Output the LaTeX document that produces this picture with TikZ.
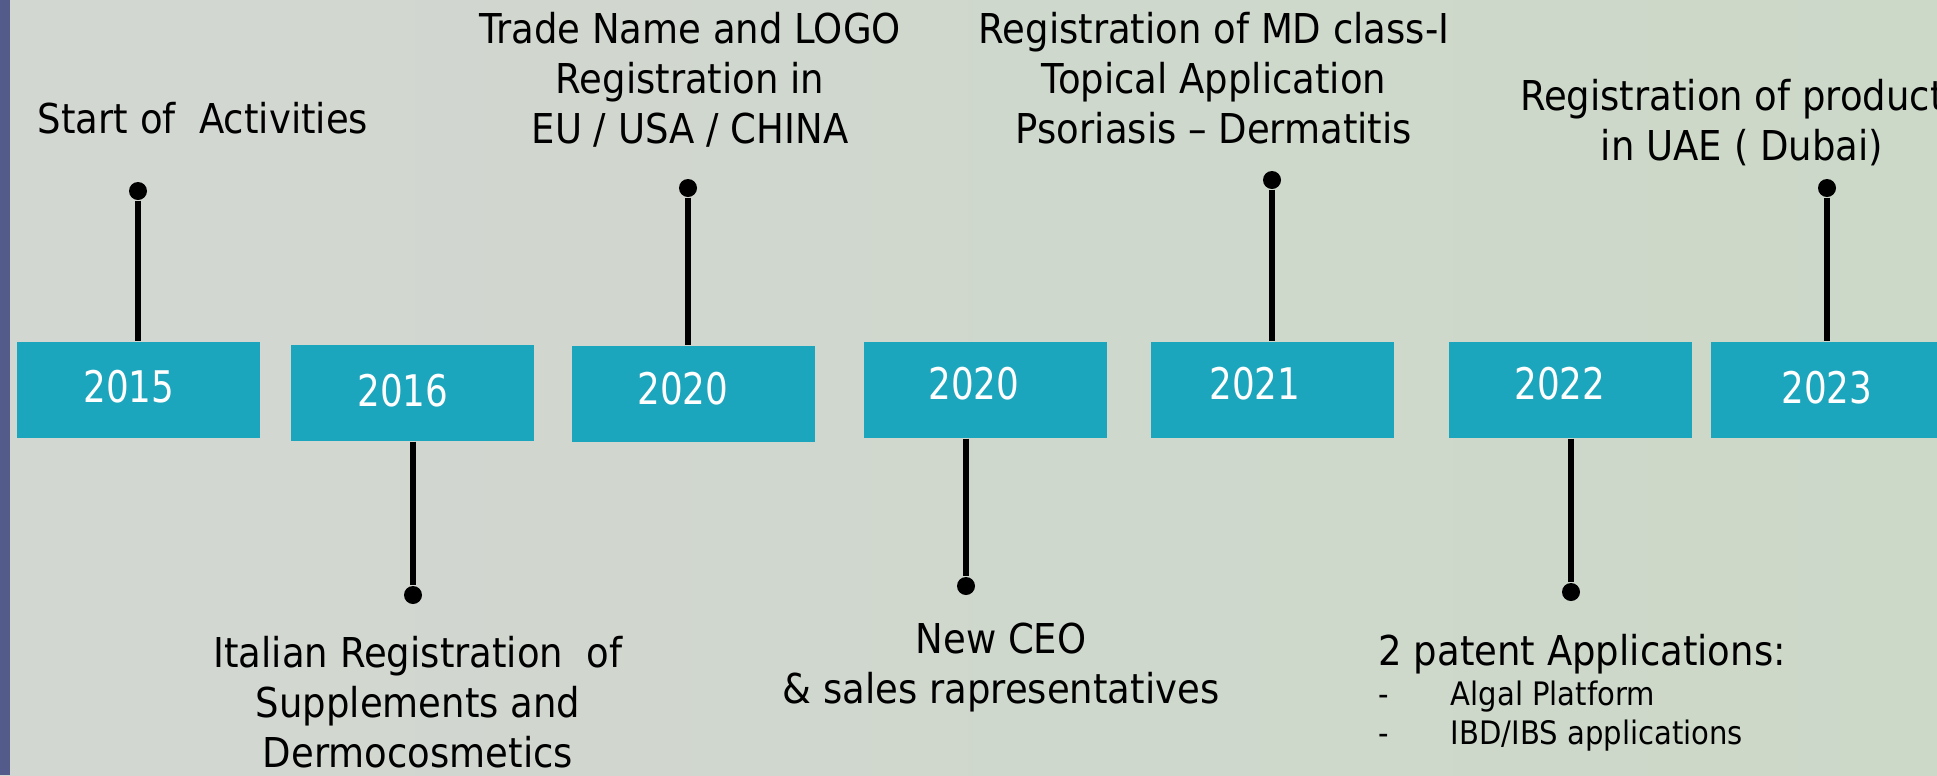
\documentclass[tikz,border=0pt]{standalone}
\usepackage{fontspec}
\setmainfont{DejaVu Sans}[FakeStretch=0.9]
\newfontfamily\yearfont{DejaVu Sans}[FakeStretch=0.82]
\usepackage{tikz}
\usetikzlibrary{positioning, calc}

\definecolor{bgleft}{HTML}{D3D7D2}
\definecolor{bgright}{HTML}{CCD8C8}
\definecolor{sidebar}{HTML}{535B8B}
\definecolor{boxblue}{HTML}{1BA6BD}

\tikzset{
  yearbox/.style={fill=boxblue, minimum width=24.3mm, minimum height=9.6mm, inner sep=0},
  yeartext/.style={text=white, font=\yearfont\fontsize{12.4}{14}\selectfont, inner sep=0},
  event/.style={font=\fontsize{11.7}{14.2}\selectfont, align=center, inner sep=0, anchor=north},
  pin/.style={circle, fill=black, inner sep=0, minimum size=1.8mm},
  stem/.style={line width=0.55mm},
}

\begin{document}
\begin{tikzpicture}[x=0.1mm, y=-0.1mm]
                  \useasboundingbox (0,0) rectangle (1937,775);
                  \clip (0,0) rectangle (1937,775);
                  \shade[left color=bgleft, right color=bgright] (0,0) rectangle (1937,775);
                  \fill[sidebar] (0,0) rectangle (10,775);

                  % Year boxes
                  \foreach \n/\bx/\by/\tx/\ty/\yr in {2015/138/390/129/387/2015, 2016/412/393/403/391/2016,
                      2020a/693/394/683/389/2020, 2020b/985/390/974/384/2020, 2021/1272/390/1255/384/2021,
                      2022/1570/390/1560/384/2022, 2023/1832/390/1827/388/2023}
                  {
                  \node[yearbox] (b\n) at (\bx,\by) {};
                  \node[yeartext] (t\n) at (\tx,\ty) {\yr};
                  }

                  % Pins
                  \foreach \n/\px/\py in {2015/138/191, 2016/413/595, 2020a/688/188, 2020b/966/586,
                      2021/1272/180, 2022/1571/592, 2023/1827/188}
                  \node[pin] (p\n) at (\px,\py) {};

                  % Stems
                  \foreach \n in {2015, 2020a, 2021, 2023}
                  \draw[stem] (p\n) -- (p\n |- b\n.north);
                  \foreach \n in {2016, 2020b, 2022}
                  \draw[stem] (p\n |- b\n.south) -- (p\n);

                  % Events above
                  \node[event] (e2015) at (203,102) {Start of~ Activities};
                  \node[event] (e2020a) at (690,12) {Trade Name and LOGO\\Registration in\\EU / USA / CHINA};
                  \node[event] (e2021) at (1214,12) {Registration of MD class-I\\Topical Application\\Psoriasis – Dermatitis};
                  \node[event] (e2023) at (1742,79) {Registration of products\\in UAE ( Dubai)};

                  % Events below
                  \node[event] (e2016) at (418,636) {Italian Registration~ of\\Supplements and\\Dermocosmetics};
                  \node[event] (e2020b) at (1001,622) {New CEO\\\& sales rapresentatives};
                  \node[event, anchor=base west] (e2022) at (1378,665) {2 patent Applications:};
                  \node[event, anchor=base west, font=\fontsize{9.2}{11}\selectfont] (e2022a) at (1378,705)
                      {\makebox[7.2mm][l]{-}Algal Platform};
                  \node[event, anchor=base west, font=\fontsize{9.2}{11}\selectfont] (e2022b) at (1378,744)
                      {\makebox[7.2mm][l]{-}IBD/IBS applications};
              \end{tikzpicture}
\end{document}
